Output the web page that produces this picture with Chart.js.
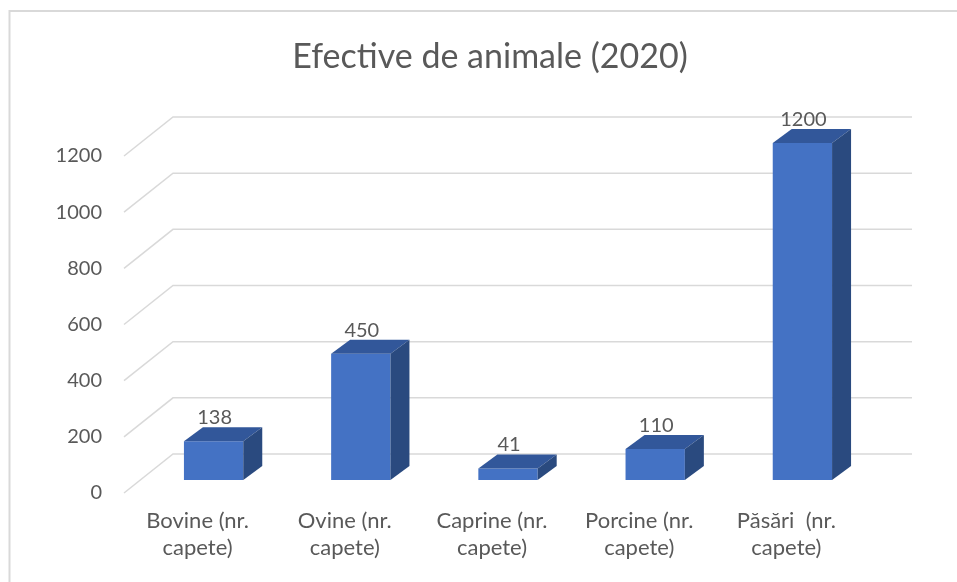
<!DOCTYPE html>
<html>
<head>
<meta charset="utf-8">
<script src="https://cdn.jsdelivr.net/npm/chart.js@4.4.1/dist/chart.umd.min.js"></script>
<style>
  html, body { margin: 0; padding: 0; background: #fff; }
  canvas { display: block; }
</style>
</head>
<body>
<canvas id="chart" width="957" height="582"></canvas>
<script>
// date din grafic
const categories = [
  ['Bovine (nr.', 'capete)'],
  ['Ovine (nr.', 'capete)'],
  ['Caprine (nr.', 'capete)'],
  ['Porcine (nr.', 'capete)'],
  ['Păsări  (nr.', 'capete)']
];
const values = [138, 450, 41, 110, 1200];
const yTicks = [0, 200, 400, 600, 800, 1000, 1200];
const chartTitle = 'Efective de animale (2020)';

const TEXT = '#595959';
const GRID = '#d9d9d9';
const FRONT = '#4472C4';
const TOP = '#32579A';
const SIDE = '#2A4A7F';

// efect 3D: planul barelor e zona graficului, podeaua are adancime
const floorFront = { dx: -16, dy: 13 };
const floorBack = { dx: 33, dy: -26 };
const barDepth = { dx: 19, dy: -14 };

const frame = {
  id: 'frame',
  beforeDraw(chart) {
    const ctx = chart.ctx;
    ctx.save();
    ctx.fillStyle = '#fff';
    ctx.fillRect(0, 0, chart.width, chart.height);
    ctx.strokeStyle = GRID;
    ctx.lineWidth = 2;
    ctx.strokeRect(9.5, 11, chart.width + 20, chart.height + 20);
    // titlul, centrat pe zona desenata de Excel
    ctx.fillStyle = TEXT;
    ctx.font = '34px Lato';
    ctx.textAlign = 'center';
    ctx.textBaseline = 'middle';
    ctx.fillText(chartTitle, 490, 57);
    ctx.restore();
  }
};

const walls = {
  id: 'walls',
  beforeDatasetsDraw(chart) {
    const { ctx, chartArea } = chart;
    const y = chart.scales.y;
    ctx.save();
    ctx.strokeStyle = GRID;
    ctx.lineWidth = 1.5;
    yTicks.forEach(v => {
      const py = y.getPixelForValue(v);
      ctx.beginPath();
      ctx.moveTo(chartArea.left + floorFront.dx, py + floorFront.dy);
      ctx.lineTo(chartArea.left + floorBack.dx, py + floorBack.dy);
      ctx.lineTo(chartArea.right + floorBack.dx + 3, py + floorBack.dy);
      ctx.stroke();
    });
    ctx.restore();
  }
};

const bars3d = {
  id: 'bars3d',
  afterDatasetsDraw(chart) {
    const ctx = chart.ctx;
    const meta = chart.getDatasetMeta(0);
    ctx.save();
    meta.data.forEach((bar, i) => {
      const l = bar.x - bar.width / 2;
      const r = bar.x + bar.width / 2;
      const t = bar.y;
      const b = bar.base;
      // fata de sus
      ctx.fillStyle = TOP;
      ctx.beginPath();
      ctx.moveTo(l, t);
      ctx.lineTo(r, t);
      ctx.lineTo(r + barDepth.dx, t + barDepth.dy);
      ctx.lineTo(l + barDepth.dx, t + barDepth.dy);
      ctx.closePath();
      ctx.fill();
      // fata laterala
      ctx.fillStyle = SIDE;
      ctx.beginPath();
      ctx.moveTo(r, t);
      ctx.lineTo(r + barDepth.dx, t + barDepth.dy);
      ctx.lineTo(r + barDepth.dx, b + barDepth.dy);
      ctx.lineTo(r, b);
      ctx.closePath();
      ctx.fill();
      // eticheta valorii
      ctx.fillStyle = TEXT;
      ctx.font = '20px Lato';
      ctx.textAlign = 'center';
      ctx.textBaseline = 'alphabetic';
      ctx.fillText(String(values[i]), bar.x + 1, t - 17);
    });
    ctx.restore();
  }
};

new Chart(document.getElementById('chart'), {
  type: 'bar',
  data: {
    labels: categories,
    datasets: [{
      data: values,
      backgroundColor: FRONT,
      borderWidth: 0,
      categoryPercentage: 1,
      barPercentage: 0.403
    }]
  },
  options: {
    responsive: false,
    animation: false,
    layout: { padding: { left: 0, right: 81, top: 143, bottom: 0 } },
    plugins: {
      legend: { display: false },
      tooltip: { enabled: false },
      title: { display: false }
    },
    scales: {
      x: {
        grid: { display: false, drawTicks: false },
        border: { display: false },
        ticks: {
          color: TEXT,
          font: { family: 'Lato', size: 22 },
          padding: 28,
          labelOffset: floorFront.dx,
          maxRotation: 0,
          autoSkip: false
        },
        afterFit(scale) { scale.height = 102; }
      },
      y: {
        min: yTicks[0],
        max: yTicks[yTicks.length - 1],
        grid: { display: false, drawTicks: false },
        border: { display: false },
        ticks: {
          stepSize: 200,
          color: TEXT,
          font: { family: 'Lato', size: 20 },
          padding: 38,
          labelOffset: floorFront.dy,
          callback: v => String(v)
        },
        afterFit(scale) { scale.width = 140; }
      }
    }
  },
  plugins: [frame, walls, bars3d]
});
</script>
</body>
</html>
